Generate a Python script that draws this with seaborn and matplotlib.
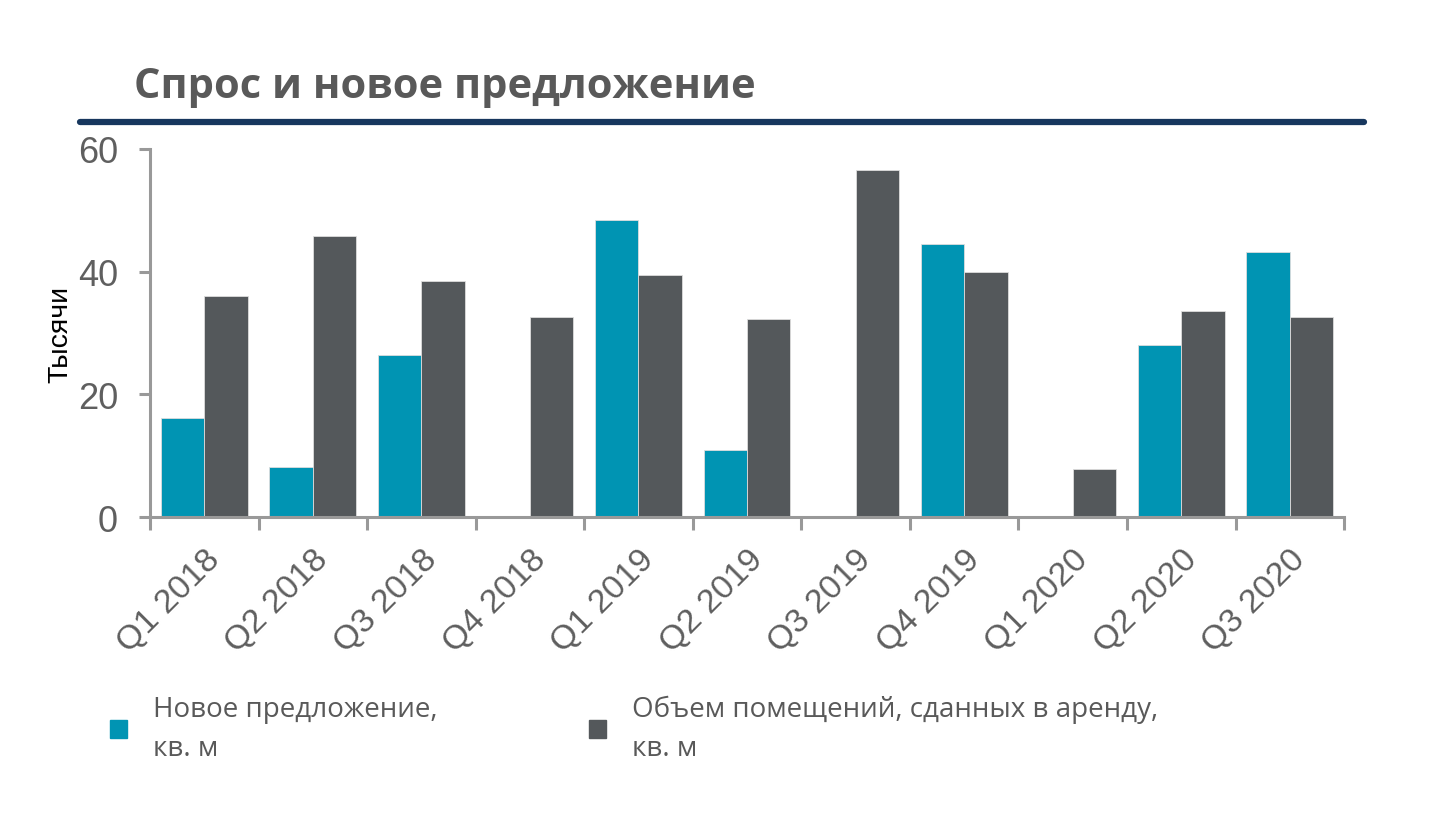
import numpy as np
import pandas as pd
import matplotlib
matplotlib.use('Agg')
import matplotlib.pyplot as plt
import matplotlib.patches as mpatches
import seaborn as sns

# Данные графика (тыс. кв. м)
quarters = ['Q1 2018', 'Q2 2018', 'Q3 2018', 'Q4 2018', 'Q1 2019', 'Q2 2019',
            'Q3 2019', 'Q4 2019', 'Q1 2020', 'Q2 2020', 'Q3 2020']
new_supply = [16.1, 8.1, 26.4, 0, 48.4, 10.9, 0, 44.5, 0, 28.0, 43.2]
leased = [36.0, 45.8, 38.5, 32.6, 39.5, 32.3, 56.6, 39.9, 7.8, 33.6, 32.6]
series_names = ['Новое предложение,\nкв. м', 'Объем помещений, сданных в аренду,\nкв. м']
series_colors = ['#0094B3', '#54585B']

df = pd.DataFrame({
    'Квартал': quarters * 2,
    'Значение': new_supply + leased,
    'Серия': [series_names[0]] * len(quarters) + [series_names[1]] * len(quarters),
})

sns.set_style('white')
plt.rcParams['font.family'] = ['Liberation Sans', 'DejaVu Sans']

fig = plt.figure(figsize=(14.46, 8.37), dpi=100)
ax = fig.add_axes([0.1037, 0.3811, 0.8258, 0.4397])

sns.barplot(data=df, x='Квартал', y='Значение', hue='Серия', palette=series_colors,
            width=0.8, saturation=1, legend=False, ax=ax, edgecolor='#DDDDDD', linewidth=0.6)

axis_gray = '#999999'
text_gray = '#5F5F5F'
ax.set_ylim(0, 60)
ax.set_xlim(-0.5, len(quarters) - 0.5)
ax.set_yticks([0, 20, 40, 60])
ax.tick_params(axis='y', labelsize=26, labelcolor=text_gray, color=axis_gray,
               length=8, width=2.2, left=True, direction='out', pad=15)
ax.set_xticks(range(len(quarters)))
ax.set_xticklabels(quarters, rotation=45, ha='right', va='top', rotation_mode='anchor')
ax.tick_params(axis='x', which='major', length=0, labelsize=24.5, labelcolor=text_gray, pad=19)
ax.set_xticks(np.arange(-0.5, len(quarters)), minor=True)
ax.tick_params(axis='x', which='minor', length=9, width=2.2, color=axis_gray,
               bottom=True, direction='out')
for side in ['top', 'right']:
    ax.spines[side].set_visible(False)
for side in ['left', 'bottom']:
    ax.spines[side].set_color(axis_gray)
    ax.spines[side].set_linewidth(2.2)
ax.set_xlabel('')
ax.set_ylabel('Тысячи', fontsize=20.5, color='black', labelpad=3)

# Заголовок и линия
fig.text(0.093, 0.895, 'Спрос и новое предложение', fontsize=30, fontweight='bold',
         color='#595959', family=['Open Sans', 'DejaVu Sans'], va='center', ha='left')
fig.add_artist(plt.Line2D([0.055, 0.943], [0.853, 0.853], color='#17375E', linewidth=4.5))

# Легенда
handles = [mpatches.Patch(color=c) for c in series_colors]
leg = fig.legend(handles, series_names, loc='upper left', bbox_to_anchor=(0.059, 0.199),
                 ncol=2, frameon=False, handlelength=0.6, handleheight=0.6,
                 handletextpad=0.95, columnspacing=5.45,
                 prop={'family': ['Open Sans', 'DejaVu Sans'], 'size': 20})
for t in leg.get_texts():
    t.set_color('#595959')
    t.set_linespacing(1.55)

fig.savefig('out.png', dpi=100)
